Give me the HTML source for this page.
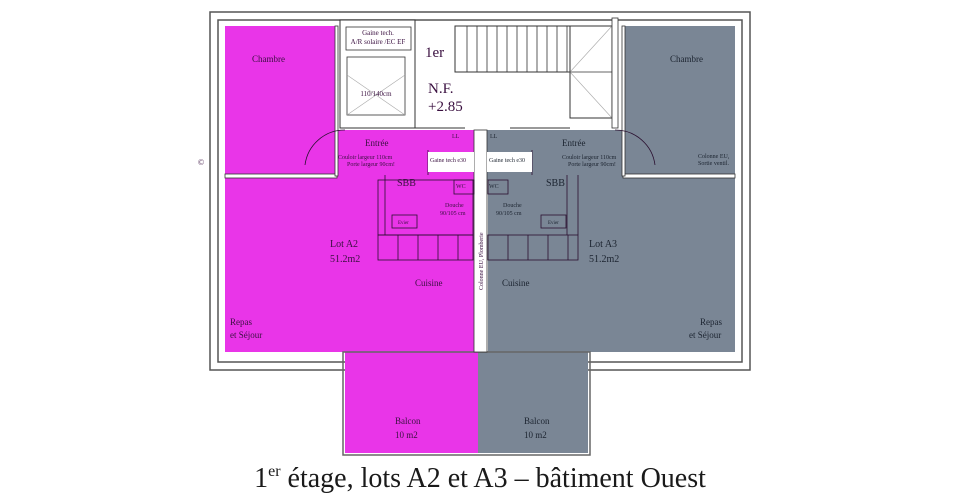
<!DOCTYPE html>
<html><head><meta charset="utf-8"><style>
body{margin:0;background:#fff;width:960px;height:500px;overflow:hidden}
svg{display:block}
text{font-family:"Liberation Serif",serif;fill:#3a1040}
.g text,text.g{fill:#1c2430}
</style></head><body>
<svg width="960" height="500" viewBox="0 0 960 500">
<rect x="210" y="12" width="540" height="358" fill="#fff" stroke="#555" stroke-width="1.5"/>
<rect x="218" y="20" width="524" height="342" fill="#fff" stroke="#555" stroke-width="1.5"/>
<g fill="#e935e8">
<rect x="225" y="26" width="110" height="148"/>
<rect x="337" y="130" width="137" height="50"/>
<rect x="225" y="178" width="249" height="174"/>
<rect x="345" y="352" width="133" height="101"/>
</g>
<g fill="#7a8695">
<rect x="625" y="26" width="110" height="148"/>
<rect x="487" y="130" width="138" height="50"/>
<rect x="488" y="178" width="247" height="174"/>
<rect x="478" y="352" width="110" height="101"/>
</g>
<rect x="225" y="174" width="112" height="4" fill="#fff" stroke="#333" stroke-width="0.8"/>
<rect x="623" y="174" width="112" height="4" fill="#fff" stroke="#333" stroke-width="0.8"/>
<rect x="335" y="26" width="3" height="150" fill="#fff" stroke="#333" stroke-width="0.8"/>
<rect x="622" y="26" width="3" height="150" fill="#fff" stroke="#333" stroke-width="0.8"/>
<rect x="343" y="352" width="247" height="103" fill="none" stroke="#666" stroke-width="1.5"/>
<rect x="474" y="130" width="13" height="222" fill="#fff" stroke="#333" stroke-width="0.8"/>
<text x="0" y="0" font-size="6" transform="translate(483,290) rotate(-90)" fill="#333">Colonne EU, Plomberie</text>
<rect x="340" y="20" width="75" height="108" fill="#fff" stroke="#333"/>
<rect x="346" y="27" width="65" height="23" fill="#fff" stroke="#333" stroke-width="0.8"/>
<text x="378" y="35" font-size="7" text-anchor="middle">Gaine tech.</text>
<text x="378" y="44" font-size="7" text-anchor="middle">A/R solaire /EC EF</text>
<rect x="347" y="57" width="58" height="58" fill="#fff" stroke="#333" stroke-width="0.8"/>
<line x1="347" y1="75" x2="405" y2="115" stroke="#aaa" stroke-width="0.6"/>
<line x1="405" y1="75" x2="347" y2="115" stroke="#aaa" stroke-width="0.6"/>
<text x="376" y="96" font-size="7" text-anchor="middle">110/140cm</text>
<text x="425" y="57" font-size="15" fill="#222">1er</text>
<text x="428" y="93" font-size="15" fill="#222">N.F.</text>
<text x="428" y="111" font-size="15" fill="#222">+2.85</text>
<rect x="455" y="26" width="155" height="46" fill="#fff" stroke="#333"/>
<g stroke="#333" stroke-width="0.8">
<line x1="467" y1="26" x2="467" y2="72"/><line x1="477" y1="26" x2="477" y2="72"/><line x1="487" y1="26" x2="487" y2="72"/><line x1="497" y1="26" x2="497" y2="72"/><line x1="507" y1="26" x2="507" y2="72"/><line x1="517" y1="26" x2="517" y2="72"/><line x1="527" y1="26" x2="527" y2="72"/><line x1="537" y1="26" x2="537" y2="72"/><line x1="547" y1="26" x2="547" y2="72"/><line x1="557" y1="26" x2="557" y2="72"/><line x1="567" y1="26" x2="567" y2="72"/>
</g>
<rect x="570" y="26" width="42" height="92" fill="#fff" stroke="#333"/>
<line x1="570" y1="72" x2="612" y2="118" stroke="#aaa" stroke-width="0.6"/>
<line x1="570" y1="72" x2="612" y2="26" stroke="#aaa" stroke-width="0.6"/>
<line x1="570" y1="72" x2="612" y2="72" stroke="#333" stroke-width="0.8"/>
<rect x="612" y="18" width="6" height="110" fill="#fff" stroke="#333" stroke-width="0.8"/>
<line x1="415" y1="128" x2="465" y2="128" stroke="#333"/>
<line x1="510" y1="128" x2="570" y2="128" stroke="#333"/>
<g fill="none" stroke="#2a1030" stroke-width="0.8">
<rect x="378" y="180" width="95" height="55"/>
<rect x="378" y="235" width="95" height="25"/>
<line x1="398" y1="235" x2="398" y2="260"/><line x1="418" y1="235" x2="418" y2="260"/><line x1="438" y1="235" x2="438" y2="260"/><line x1="458" y1="235" x2="458" y2="260"/>
<rect x="392" y="215" width="25" height="13"/>
<rect x="454" y="180" width="20" height="14"/>
<rect x="488" y="180" width="20" height="14"/>
<rect x="488" y="235" width="90" height="25"/>
<line x1="508" y1="235" x2="508" y2="260"/><line x1="528" y1="235" x2="528" y2="260"/><line x1="548" y1="235" x2="548" y2="260"/><line x1="568" y1="235" x2="568" y2="260"/>
<rect x="541" y="215" width="25" height="13"/>
<line x1="567" y1="175" x2="567" y2="235"/><line x1="578" y1="175" x2="578" y2="235"/>
<line x1="385" y1="175" x2="385" y2="235"/>
<line x1="428" y1="150" x2="428" y2="175"/><line x1="532" y1="150" x2="532" y2="175"/>
<path d="M305 165 A40 40 0 0 1 345 130"/><path d="M655 165 A40 40 0 0 0 615 130"/>
</g>
<rect x="428" y="152" width="46" height="20" fill="#fff"/>
<rect x="487" y="152" width="45" height="20" fill="#fff"/>
<text x="430" y="162" font-size="6">Gaine tech e30</text>
<text x="489" y="162" font-size="6" class="g">Gaine tech e30</text>
<text x="452" y="138" font-size="6">LL</text>
<text x="490" y="138" font-size="6" class="g">LL</text>
<text x="365" y="146" font-size="9">Entrée</text>
<text x="338" y="159" font-size="6">Couloir largeur 110cm</text>
<text x="347" y="166" font-size="6">Porte largeur 90cm!</text>
<text x="397" y="186" font-size="10">SBB</text>
<text x="456" y="188" font-size="6">WC</text>
<text x="445" y="207" font-size="6">Douche</text>
<text x="440" y="215" font-size="6">90/105 cm</text>
<text x="398" y="224" font-size="5">Evier</text>
<text x="252" y="62" font-size="9">Chambre</text>
<text x="330" y="247" font-size="10">Lot A2</text>
<text x="330" y="262" font-size="10">51.2m2</text>
<text x="415" y="286" font-size="9">Cuisine</text>
<text x="230" y="325" font-size="9">Repas</text>
<text x="230" y="338" font-size="9">et Séjour</text>
<text x="395" y="424" font-size="9">Balcon</text>
<text x="395" y="438" font-size="9">10 m2</text>
<g class="g">
<text x="562" y="146" font-size="9">Entrée</text>
<text x="562" y="159" font-size="6">Couloir largeur 110cm</text>
<text x="568" y="166" font-size="6">Porte largeur 90cm!</text>
<text x="546" y="186" font-size="10">SBB</text>
<text x="489" y="188" font-size="6">WC</text>
<text x="503" y="207" font-size="6">Douche</text>
<text x="496" y="215" font-size="6">90/105 cm</text>
<text x="548" y="224" font-size="5">Evier</text>
<text x="670" y="62" font-size="9">Chambre</text>
<text x="698" y="158" font-size="6">Colonne EU,</text>
<text x="698" y="165" font-size="6">Sortie ventil.</text>
<text x="589" y="247" font-size="10">Lot A3</text>
<text x="589" y="262" font-size="10">51.2m2</text>
<text x="502" y="286" font-size="9">Cuisine</text>
<text x="700" y="325" font-size="9">Repas</text>
<text x="689" y="338" font-size="9">et Séjour</text>
<text x="524" y="424" font-size="9">Balcon</text>
<text x="524" y="438" font-size="9">10 m2</text>
</g>
<text x="198" y="165" font-size="8" fill="#aaa">©</text>
<text x="480" y="487" font-size="28" text-anchor="middle" style="fill:#1a1a1a">1<tspan font-size="16" dy="-11">er</tspan><tspan dy="11"> étage, lots A2 et A3 – bâtiment Ouest</tspan></text>
</svg>
</body></html>
